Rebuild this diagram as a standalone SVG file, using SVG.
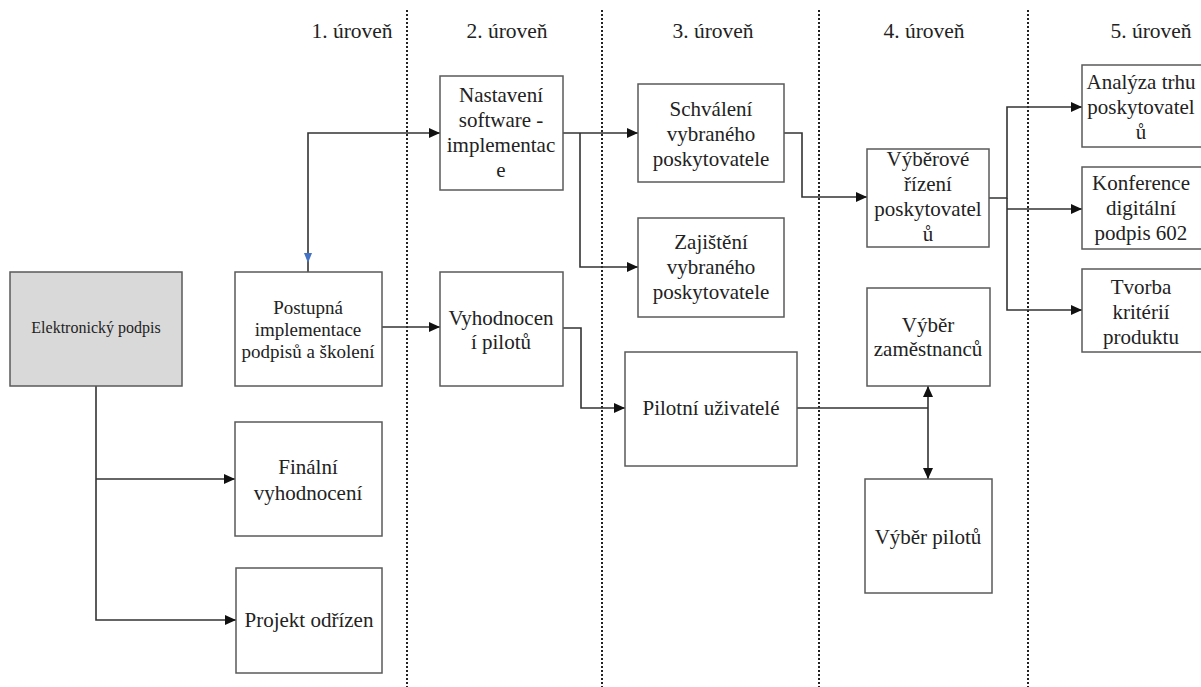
<svg xmlns="http://www.w3.org/2000/svg" width="1201" height="687" viewBox="0 0 1201 687">
<defs>
<style>
.box{fill:#fff;stroke:#5a5a5a;stroke-width:1.5}
.gray{fill:#d9d9d9}
text{font-family:'Liberation Serif','DejaVu Serif',serif;fill:#222;text-anchor:middle}
.t{font-size:21px}
.s{font-size:19px}
.xs{font-size:16px}
.lvl{font-size:21.5px}
.dot{stroke:#222;stroke-width:2;stroke-dasharray:2 2;fill:none}
.c{fill:none;stroke:#333;stroke-width:1.6}
</style>
<marker id="ah" markerUnits="userSpaceOnUse" markerWidth="12" markerHeight="10" refX="11" refY="5" orient="auto">
<path d="M0 0 L11 5 L0 10 Z" fill="#111"/>
</marker>
</defs>
<rect width="1201" height="687" fill="#fff"/>
<g id="levels">
<line class="dot" x1="407" y1="10" x2="407" y2="687"/>
<line class="dot" x1="602" y1="10" x2="602" y2="687"/>
<line class="dot" x1="819" y1="10" x2="819" y2="687"/>
<line class="dot" x1="1028" y1="10" x2="1028" y2="687"/>
<text class="lvl" x="352" y="38">1. úroveň</text>
<text class="lvl" x="507" y="38">2. úroveň</text>
<text class="lvl" x="713" y="38">3. úroveň</text>
<text class="lvl" x="924" y="38">4. úroveň</text>
<text class="lvl" x="1151" y="38">5. úroveň</text>
</g>
<g id="connectors">
<path class="c" d="M96 386 V620 H236" marker-end="url(#ah)"/>
<path class="c" d="M96 479 H235" marker-end="url(#ah)"/>
<path class="c" d="M308 272 V133 H440" marker-end="url(#ah)"/>
<path d="M304 253 L312 253 L308 263 Z" fill="#4472c4"/>
<path class="c" d="M382 327 H440" marker-end="url(#ah)"/>
<path class="c" d="M563 133 H638" marker-end="url(#ah)"/>
<path class="c" d="M580 133 V267 H638" marker-end="url(#ah)"/>
<path class="c" d="M784 133 H802 V197 H867" marker-end="url(#ah)"/>
<path class="c" d="M989 198 H1007 V107 H1082" marker-end="url(#ah)"/>
<path class="c" d="M1007 209 H1082" marker-end="url(#ah)"/>
<path class="c" d="M1007 198 V310 H1082" marker-end="url(#ah)"/>
<path class="c" d="M563 328 H581 V408 H625" marker-end="url(#ah)"/>
<path class="c" d="M797 408 H928"/>
<path class="c" d="M928 408 V386" marker-end="url(#ah)"/>
<path class="c" d="M928 408 V479" marker-end="url(#ah)"/>
</g>
<g id="n-elektronicky">
<rect class="box gray" x="10" y="272" width="172" height="114"/>
<text class="xs" x="96" y="333">Elektronický podpis</text>
</g>
<g id="n-postupna">
<rect class="box" x="235" y="272" width="147" height="114"/>
<text class="s" x="308" y="314">Postupná</text>
<text class="s" x="308" y="336">implementace</text>
<text class="s" x="308" y="358">podpisů a školení</text>
</g>
<g id="n-finalni">
<rect class="box" x="235" y="422" width="147" height="114"/>
<text class="t" x="308" y="474">Finální</text>
<text class="t" x="308" y="500">vyhodnocení</text>
</g>
<g id="n-projekt">
<rect class="box" x="236" y="568" width="146" height="105"/>
<text class="t" x="309" y="627">Projekt odřízen</text>
</g>
<g id="n-nastaveni">
<rect class="box" x="440" y="76" width="123" height="114"/>
<text class="t" x="501" y="102">Nastavení</text>
<text class="t" x="501" y="127">software -</text>
<text class="t" x="501" y="152">implementac</text>
<text class="t" x="501" y="177">e</text>
</g>
<g id="n-vyhodnoceni">
<rect class="box" x="440" y="272" width="123" height="114"/>
<text class="t" x="501" y="325">Vyhodnocen</text>
<text class="t" x="501" y="349">í pilotů</text>
</g>
<g id="n-schvaleni">
<rect class="box" x="638" y="84" width="146" height="98"/>
<text class="t" x="711" y="116">Schválení</text>
<text class="t" x="711" y="141">vybraného</text>
<text class="t" x="711" y="166">poskytovatele</text>
</g>
<g id="n-zajisteni">
<rect class="box" x="638" y="218" width="146" height="99"/>
<text class="t" x="711" y="249">Zajištění</text>
<text class="t" x="711" y="274">vybraného</text>
<text class="t" x="711" y="299">poskytovatele</text>
</g>
<g id="n-pilotni">
<rect class="box" x="625" y="352" width="172" height="114"/>
<text class="t" x="711" y="415">Pilotní uživatelé</text>
</g>
<g id="n-vyberove">
<rect class="box" x="867" y="149" width="122" height="98"/>
<text class="t" x="928" y="166">Výběrové</text>
<text class="t" x="928" y="191">řízení</text>
<text class="t" x="928" y="216">poskytovatel</text>
<text class="t" x="928" y="241">ů</text>
</g>
<g id="n-zamestnancu">
<rect class="box" x="867" y="288" width="123" height="98"/>
<text class="t" x="928" y="332">Výběr</text>
<text class="t" x="928" y="356">zaměstnanců</text>
</g>
<g id="n-pilotu">
<rect class="box" x="865" y="479" width="127" height="114"/>
<text class="t" x="928" y="544">Výběr pilotů</text>
</g>
<g id="n-analyza">
<rect class="box" x="1082" y="65" width="121" height="82"/>
<text class="t" x="1141" y="89">Analýza trhu</text>
<text class="t" x="1141" y="114">poskytovatel</text>
<text class="t" x="1141" y="139">ů</text>
</g>
<g id="n-konference">
<rect class="box" x="1082" y="167" width="121" height="82"/>
<text class="t" x="1141" y="190">Konference</text>
<text class="t" x="1141" y="215">digitální</text>
<text class="t" x="1141" y="240">podpis 602</text>
</g>
<g id="n-tvorba">
<rect class="box" x="1082" y="269" width="121" height="83"/>
<text class="t" x="1141" y="294">Tvorba</text>
<text class="t" x="1141" y="319">kritérií</text>
<text class="t" x="1141" y="344">produktu</text>
</g>
</svg>
